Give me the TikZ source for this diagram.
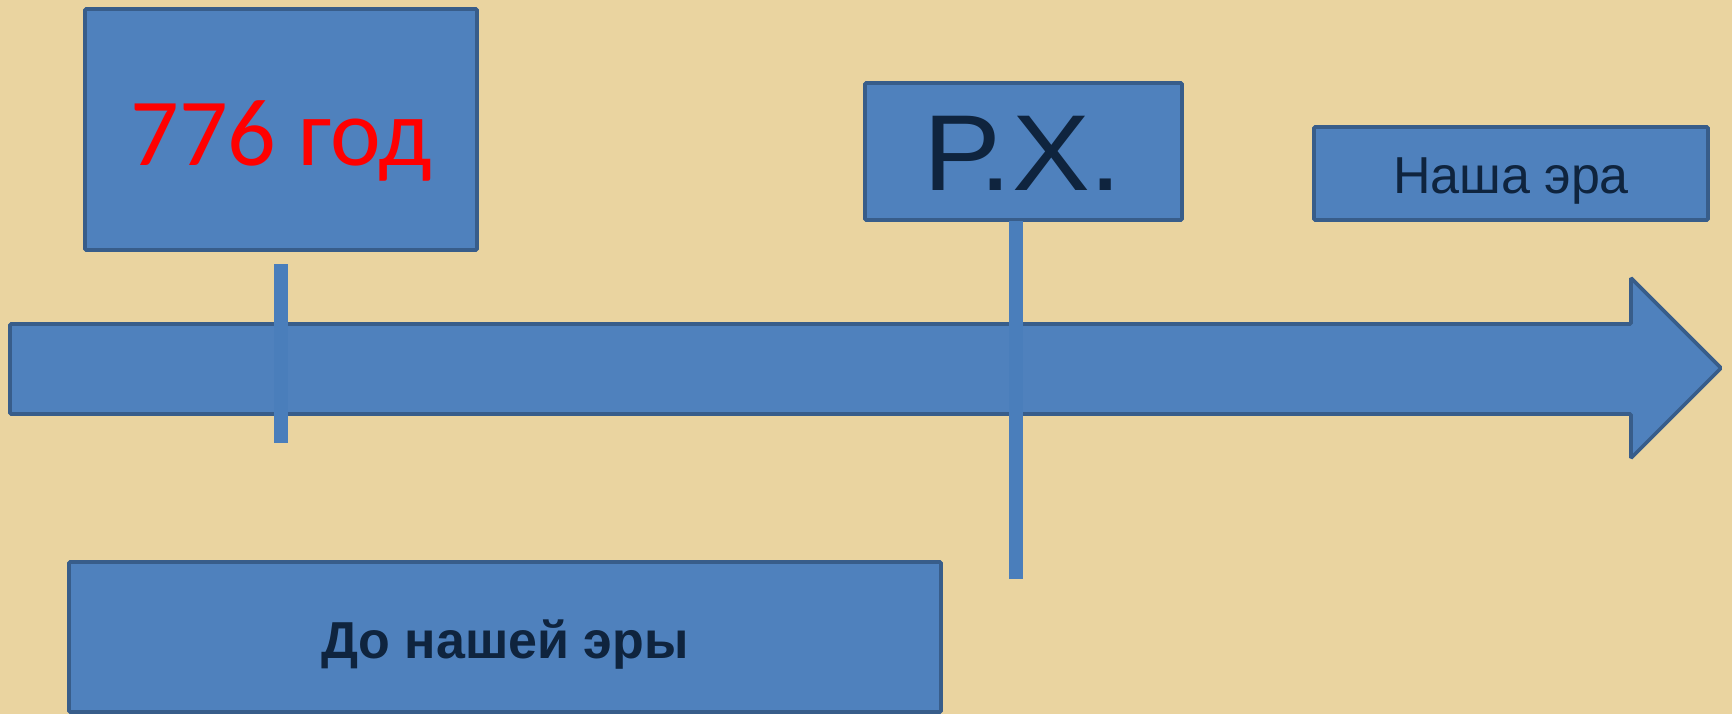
\documentclass[tikz,border=0pt]{standalone}
\usepackage{fontspec}
\setmainfont{Liberation Sans}
\newfontfamily\calib{Carlito}
\newfontfamily\arialrx[FakeStretch=1.08]{Liberation Sans}
\definecolor{bgpap}{HTML}{EAD4A0}
\definecolor{boxblue}{HTML}{4F81BD}
\definecolor{boxedge}{HTML}{385D8A}
\definecolor{tickblue}{HTML}{4A7EBB}
\definecolor{navy}{HTML}{0F243E}
\tikzset{
  panel/.style={draw=boxedge, fill=boxblue, line width=1.8pt, rounded corners=0.6pt, inner sep=0pt},
  tickbar/.style={fill=tickblue, draw=none},
  lbl/.style={anchor=base, inner sep=0pt}
}
\begin{document}
\begin{tikzpicture}[x=0.5pt,y=-0.5pt]
\fill[bgpap] (0,0) rectangle (1732,714);
\useasboundingbox (0,0) rectangle (1732,714);
% main arrow
\draw[panel] (10,324) -- (1631,324) -- (1631,278) -- (1721,368) -- (1631,458) -- (1631,414) -- (10,414) -- cycle;
% boxes
\node[panel, minimum width=196pt, minimum height=120.5pt] (b776) at (281,129.5) {};
\node[panel, minimum width=158.5pt, minimum height=68.5pt] (brx) at (1023.5,151.5) {};
\node[panel, minimum width=197pt, minimum height=46.5pt] (bne) at (1511,173.5) {};
\node[panel, minimum width=436pt, minimum height=75pt] (bdne) at (505,637) {};
% ticks
\fill[tickbar] (274,264) rectangle (288,443);
\fill[tickbar] (1009,221) rectangle (1023,579);
% labels
\node[lbl, text=red] (t776) at (281,165) {\calib\fontsize{48}{52}\selectfont 776 год};
\node[lbl, text=navy] (trx) at (1023,190) {\arialrx\fontsize{54}{58}\selectfont Р.Х.};
\node[lbl, text=navy] (tne) at (1511,193) {\fontsize{26}{30}\selectfont Наша эра};
\node[lbl, text=navy] (tdne) at (505,658) {\bfseries\fontsize{26}{30}\selectfont До нашей эры};
\end{tikzpicture}
\end{document}
